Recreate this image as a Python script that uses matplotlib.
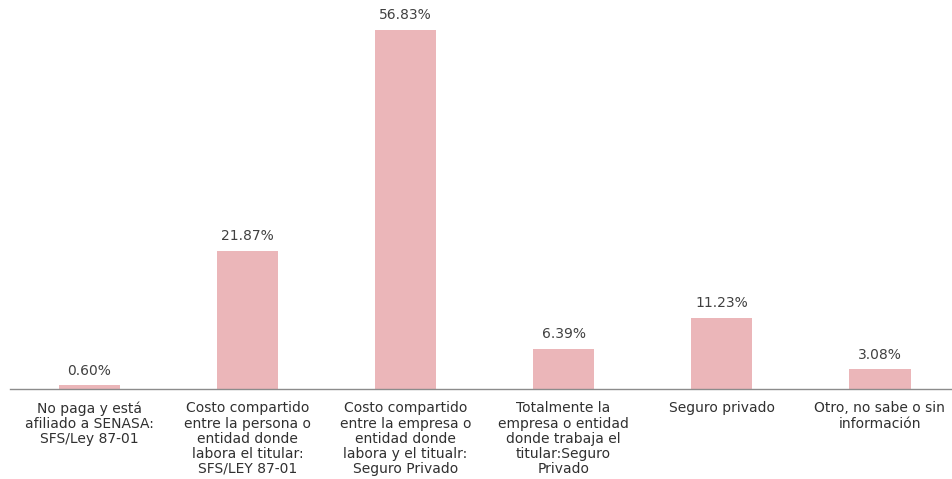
import matplotlib.pyplot as plt

categorias = [
    "No paga y está\nafiliado a SENASA:\nSFS/Ley 87-01",
    "Costo compartido\nentre la persona o\nentidad donde\nlabora el titular:\nSFS/LEY 87-01",
    "Costo compartido\nentre la empresa o\nentidad donde\nlabora y el titualr:\nSeguro Privado",
    "Totalmente la\nempresa o entidad\ndonde trabaja el\ntitular:Seguro\nPrivado",
    "Seguro privado",
    "Otro, no sabe o sin\ninformación",
]
porcentajes = [0.60, 21.87, 56.83, 6.39, 11.23, 3.08]

fig = plt.figure(figsize=(9.53, 4.79), dpi=100)
ax = fig.add_axes([0.011, 0.188, 0.995, 0.812])

x = range(len(categorias))
barras = ax.bar(x, porcentajes, width=0.39, color="#ebb6b9", edgecolor="none")

for xi, v in zip(x, porcentajes):
    ax.text(xi, v + 1.2, f"{v:.2f}%", ha="center", va="bottom",
            fontsize=10, color="#404040")

ax.set_xlim(-0.5, len(categorias) - 0.5)
ax.set_ylim(0, 61.5)
ax.set_xticks(list(x))
ax.set_xticklabels(categorias, fontsize=10, color="#303030", linespacing=1.1)
ax.tick_params(axis="x", length=0, pad=9)
ax.set_yticks([])

for lado in ["top", "right", "left"]:
    ax.spines[lado].set_visible(False)
ax.spines["bottom"].set_color("#8c8c8c")
ax.spines["bottom"].set_linewidth(1.0)

fig.savefig("out.png", dpi=100)
